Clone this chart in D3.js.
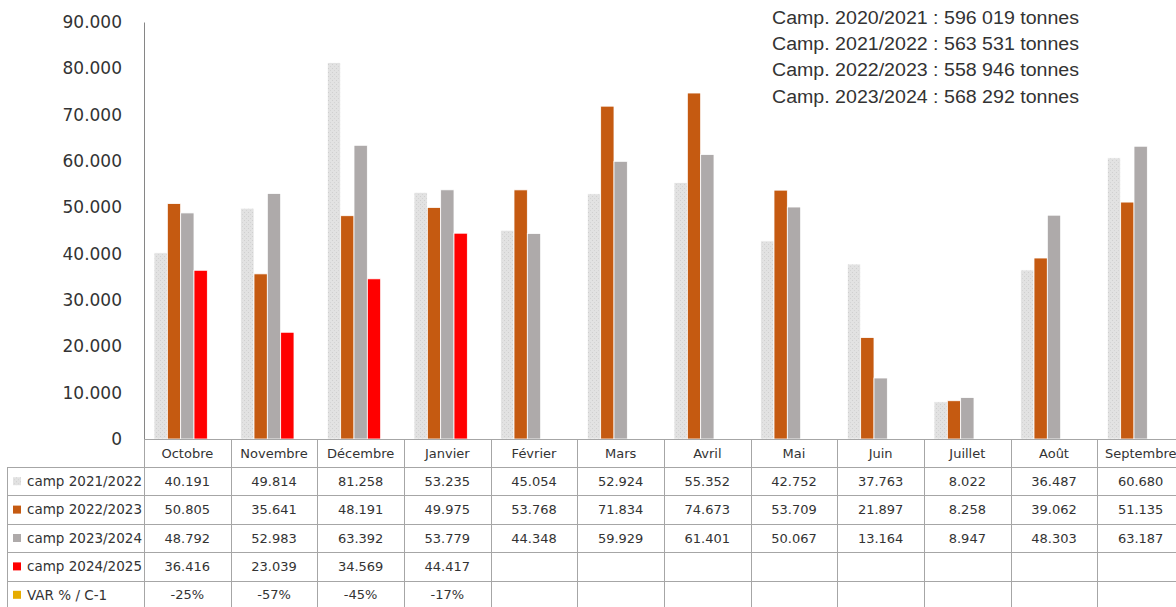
<!DOCTYPE html>
<html>
<head>
<meta charset="utf-8">
<script src="https://cdn.jsdelivr.net/npm/d3@7"></script>
<style>
  body { margin: 0; background: #fff; }
  text { font-family: "DejaVu Sans", sans-serif; fill: #333; }
</style>
</head>
<body>
<svg id="chart" width="1176" height="607"></svg>
<script>
var months = ["Octobre", "Novembre", "Décembre", "Janvier", "Février", "Mars", "Avril", "Mai", "Juin", "Juillet", "Août", "Septembre"];
var camp2122 = [40191, 49814, 81258, 53235, 45054, 52924, 55352, 42752, 37763, 8022, 36487, 60680];
var camp2223 = [50805, 35641, 48191, 49975, 53768, 71834, 74673, 53709, 21897, 8258, 39062, 51135];
var camp2324 = [48792, 52983, 63392, 53779, 44348, 59929, 61401, 50067, 13164, 8947, 48303, 63187];
var camp2425 = [36416, 23039, 34569, 44417];
var varPct = ["-25%", "-57%", "-45%", "-17%"];
var seriesNames = ["camp 2021/2022", "camp 2022/2023", "camp 2023/2024", "camp 2024/2025", "VAR % / C-1"];
var yTicks = [0, 10000, 20000, 30000, 40000, 50000, 60000, 70000, 80000, 90000];
var totals = [
  "Camp. 2020/2021 : 596 019 tonnes",
  "Camp. 2021/2022 : 563 531 tonnes",
  "Camp. 2022/2023 : 558 946 tonnes",
  "Camp. 2023/2024 : 568 292 tonnes"
];

var colors = ["url(#dots)", "#c55a11", "#aeaaaa", "#ff0000", "#e6ac00"];
var seriesValues = [camp2122, camp2223, camp2324, camp2425, []];
var rowTexts = [camp2122, camp2223, camp2324, camp2425, varPct];

var fr = d3.formatLocale({decimal: ",", thousands: ".", grouping: [3], currency: ["", " €"]});
var fmt = fr.format(",");

var svg = d3.select("#chart");

// pattern for the light series
var pat = svg.append("defs").append("pattern")
    .attr("id", "dots")
    .attr("width", 4).attr("height", 4)
    .attr("patternUnits", "userSpaceOnUse");
pat.append("rect").attr("width", 4).attr("height", 4).attr("fill", "#e2e2e2");
pat.append("rect").attr("x", 0).attr("y", 0).attr("width", 1).attr("height", 1).attr("fill", "#cfcfcf");
pat.append("rect").attr("x", 2).attr("y", 2).attr("width", 1).attr("height", 1).attr("fill", "#d4d4d4");

var x0 = d3.scaleBand().domain(months).range([144, 1184]);
var x1 = d3.scaleBand().domain(seriesNames).range([10, x0.bandwidth() - 10]);
var y = d3.scaleLinear().domain([0, 90000]).range([439, 22]);
var rows = d3.scaleBand().domain(seriesNames).range([467, 467 + 5 * 28.4]);

// bars
seriesValues.forEach(function(vals, si) {
  svg.append("g").selectAll("rect")
    .data(vals)
    .enter().append("rect")
    .attr("x", function(d, i) { return x0(months[i]) + x1(seriesNames[si]); })
    .attr("y", function(d) { return y(d); })
    .attr("width", x1.bandwidth())
    .attr("height", function(d) { return y(0) - y(d); })
    .attr("fill", colors[si])
    .attr("stroke", "#fff")
    .attr("stroke-width", 0.8);
});

// y axis
var yAxis = svg.append("g")
    .attr("transform", "translate(144,0)")
    .call(d3.axisLeft(y).tickValues(yTicks).tickSize(0).tickPadding(22).tickFormat(fmt));
yAxis.select(".domain").attr("stroke", "#868686");
yAxis.selectAll("text")
    .style("font-size", "17px")
    .style("font-family", "'DejaVu Sans', sans-serif")
    .attr("fill", "#333");

// data table
var grid = svg.append("g").attr("stroke", "#a6a6a6").attr("stroke-width", 1);
var bottom = 640;
grid.append("line").attr("x1", 144).attr("x2", 1176).attr("y1", 439.5).attr("y2", 439.5);
grid.selectAll(".h").data(seriesNames).enter().append("line")
    .attr("x1", 7).attr("x2", 1176)
    .attr("y1", function(d) { return Math.round(rows(d)) + 0.5; })
    .attr("y2", function(d) { return Math.round(rows(d)) + 0.5; });
grid.append("line").attr("x1", 7).attr("x2", 1176)
    .attr("y1", Math.round(rows.range()[1]) + 0.5).attr("y2", Math.round(rows.range()[1]) + 0.5);
grid.selectAll(".v").data(months).enter().append("line")
    .attr("x1", function(d) { return Math.round(x0(d)) + 0.5; })
    .attr("x2", function(d) { return Math.round(x0(d)) + 0.5; })
    .attr("y1", 439).attr("y2", bottom);
grid.append("line").attr("x1", 7.5).attr("x2", 7.5).attr("y1", 467).attr("y2", bottom);

// month headers
svg.append("g").selectAll("text")
    .data(months)
    .enter().append("text")
    .attr("x", function(d) { return x0(d) + x0.bandwidth() / 2; })
    .attr("y", 453)
    .attr("dy", "0.35em")
    .attr("text-anchor", "middle")
    .style("font-size", "13px")
    .text(function(d) { return d; });

// legend column
var leg = svg.append("g").selectAll("g")
    .data(seriesNames)
    .enter().append("g")
    .attr("transform", function(d) { return "translate(0," + (rows(d) + rows.bandwidth() / 2) + ")"; });
leg.append("rect")
    .attr("x", 13).attr("y", -4).attr("width", 8).attr("height", 8)
    .attr("fill", function(d, i) { return colors[i]; });
leg.append("text")
    .attr("x", 27).attr("dy", "0.35em")
    .style("font-size", "13.5px")
    .text(function(d) { return d; });

// cell values
rowTexts.forEach(function(vals, si) {
  svg.append("g").selectAll("text")
    .data(vals)
    .enter().append("text")
    .attr("x", function(d, i) { return x0(months[i]) + x0.bandwidth() / 2; })
    .attr("y", rows(seriesNames[si]) + rows.bandwidth() / 2)
    .attr("dy", "0.35em")
    .attr("text-anchor", "middle")
    .style("font-size", "13px")
    .text(function(d) { return typeof d === "number" ? fmt(d) : d; });
});

// campaign totals
svg.append("g").selectAll("text")
    .data(totals)
    .enter().append("text")
    .attr("x", 772)
    .attr("y", function(d, i) { return 23.5 + i * 26.4; })
    .style("font-family", "'Liberation Sans', sans-serif")
    .style("font-size", "18px")
    .attr("textLength", 307)
    .attr("lengthAdjust", "spacingAndGlyphs")
    .text(function(d) { return d; });
</script>
</body>
</html>
